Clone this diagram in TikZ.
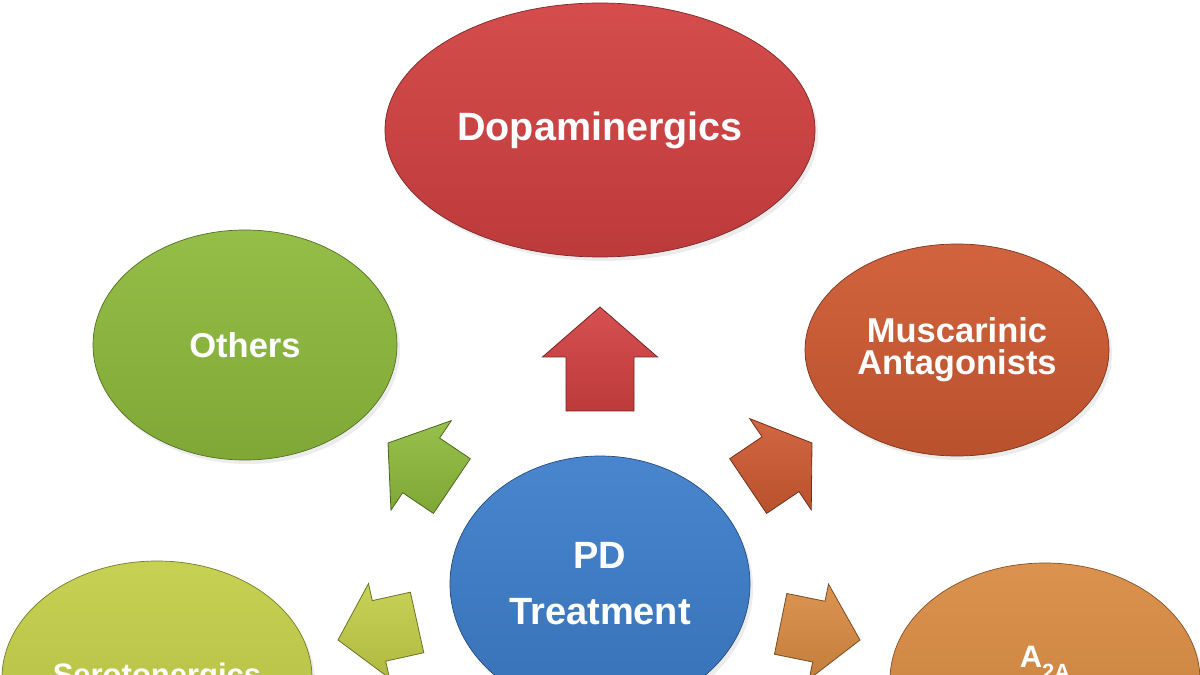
\documentclass[tikz,border=0pt]{standalone}
\usepackage{fontspec}
\setmainfont{Liberation Sans}
\usetikzlibrary{shapes.geometric,shadows}
\definecolor{cDop}{HTML}{D24141}
\definecolor{cOth}{HTML}{8DBA3C}
\definecolor{cMus}{HTML}{CE5A32}
\definecolor{cPD}{HTML}{3D7ECB}
\definecolor{cSer}{HTML}{C3CE48}
\definecolor{cA2A}{HTML}{D98B42}
\tikzset{
  bub/.style={ellipse, draw=#1!60!black, line width=0.7pt,
    top color=#1!94!white, bottom color=#1!90!black,
    text=white, align=center, inner sep=0pt,
    drop shadow={opacity=0.15, shadow xshift=3pt, shadow yshift=-4pt}},
  blk/.style={draw=#1!55!black, line width=0.8pt, line join=miter,
    top color=#1!92!white, bottom color=#1!90!black},
  lbl/.style={text=white, font=\bfseries}
}
\newcommand\barrow[8]{%
  \begin{scope}[shift={(#1,#2)},rotate=#3]
    \path[blk=#8] (0,0) -- (-#5,#6/2) -- (-#5,#7/2) -- (-#4,#7/2)
      -- (-#4,-#7/2) -- (-#5,-#7/2) -- (-#5,-#6/2) -- cycle;
  \end{scope}}
\begin{document}
\begin{tikzpicture}[x=1pt,y=1pt]
\useasboundingbox (0,0) rectangle (1200,675);
\clip (0,0) rectangle (1200,675);
\fill[white] (0,0) rectangle (1200,675);

% ellipses
\node[bub=cDop, minimum width=430pt, minimum height=254pt,
  font=\bfseries\fontsize{39.5}{40}\selectfont] (dop) at (600,545) {Dopaminergics};
\node[bub=cOth, minimum width=304pt, minimum height=230pt,
  font=\bfseries\fontsize{34.5}{34}\selectfont] (oth) at (245,330) {Others};
\node[bub=cMus, minimum width=304pt, minimum height=212pt,
  font=\bfseries\fontsize{34.5}{32}\selectfont] (mus) at (957,325) {Muscarinic\\Antagonists};
\node[bub=cPD, minimum width=300pt, minimum height=256pt,
  font=\bfseries\fontsize{38}{56}\selectfont] (pd) at (600,91) {PD\\Treatment};
\node[bub=cSer, minimum width=310pt, minimum height=234pt,
  font=\bfseries\fontsize{31}{32}\selectfont] (ser) at (157,-3) {Serotonergics};
\node[bub=cA2A, minimum width=310pt, minimum height=234pt] (a2a) at (1045,-5) {};
\node[lbl, anchor=base, font=\bfseries\fontsize{31}{32}\selectfont] (a2atxt) at (1045,7)
  {A\raisebox{-12pt}{\fontsize{22}{22}\selectfont 2A}};

% block arrows: tip x, tip y, angle, length, head length, head width, shaft width, colour
\barrow{600}{368}{90}{104}{50}{115}{68}{cDop}
\barrow{388}{232}{146}{77}{40}{108}{66}{cOth}
\barrow{812}{232}{34}{77}{38}{110}{66}{cMus}
\barrow{338}{35}{192.5}{81}{42}{97}{62}{cSer}
\barrow{860}{35}{-11.5}{81}{42}{97}{62}{cA2A}
\end{tikzpicture}
\end{document}
